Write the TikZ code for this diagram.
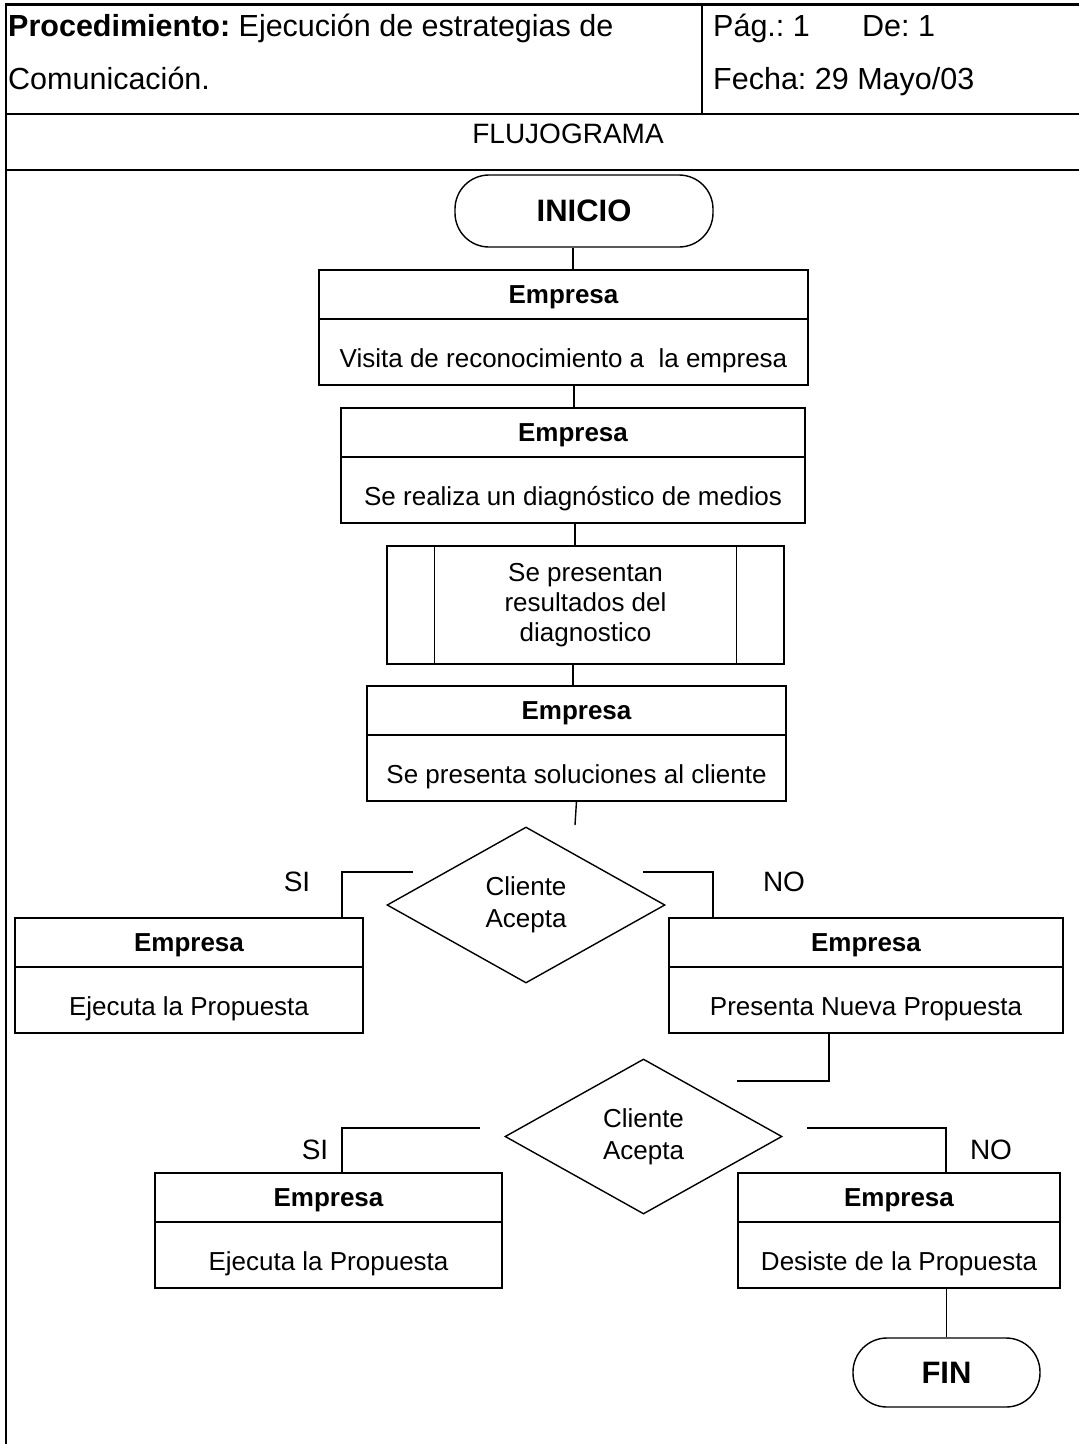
\documentclass[tikz,border=0pt]{standalone}
\usepackage{fontspec}
\setmainfont{Liberation Sans}
\frenchspacing
\usetikzlibrary{positioning,shapes.geometric}

\tikzset{
  frame/.style={line width=2.5pt},
  conn/.style={line width=1.4pt},
  head/.style={draw, line width=1.4pt, outer sep=0pt, minimum height=49pt,
    text height=18.7pt, text depth=0pt,
    font=\fontsize{26}{31}\selectfont\bfseries},
  body/.style={draw, line width=1.4pt, outer sep=0pt, minimum height=66pt,
    text height=30pt, text depth=0pt,
    font=\fontsize{26}{31}\selectfont},
  term/.style={draw, line width=1.4pt, rounded corners=34pt,
    font=\fontsize{31}{36}\selectfont\bfseries},
  decision/.style={draw, diamond, line width=1.4pt, inner sep=0pt, align=center,
    font=\fontsize{26}{32}\selectfont},
  answer/.style={font=\fontsize{28}{32}\selectfont},
  hdr/.style={anchor=base west, inner sep=0pt, font=\fontsize{30.5}{34}\selectfont},
}

\begin{document}
\begin{tikzpicture}[x=1pt, y=-1pt]
    \useasboundingbox (0,0) rectangle (1079,1444);

    % Frame and header
    \draw[frame] (1079,4.5) -- (6,4.5) -- (6,1444);
    \draw[frame] (6,114) -- (1079,114);
    \draw[frame] (6,170) -- (1079,170);
    \draw[frame] (702,4.5) -- (702,114);
    \node[hdr] (proc) at (8,36) {\textbf{Procedimiento:} Ejecución de estrategias de};
    \node[hdr] (proc2) at (8,89) {Comunicación.};
    \node[hdr] (pag) at (713,36) {Pág.: 1};
    \node[hdr] (de) at (862,36) {De: 1};
    \node[hdr] (fecha) at (713,89) {Fecha: 29 Mayo/03};
    \node[font=\fontsize{28}{32}\selectfont] (flujo) at (568,134) {FLUJOGRAMA};

    % Start
    \node[term, minimum width=258pt, minimum height=72pt] (inicio) at (584,211) {INICIO};

    % Steps
    \node[head, minimum width=489pt] (h1) at (563.5,294.5) {Empresa};
    \node[body, minimum width=489pt, below=0pt of h1] (t1) {Visita de reconocimiento a~ la empresa};

    \node[head, minimum width=464pt] (h2) at (573,432.5) {Empresa};
    \node[body, minimum width=464pt, below=0pt of h2] (t2) {Se realiza un diagnóstico de medios};

    \node[draw, line width=1.4pt, minimum width=397pt, minimum height=118pt, align=center,
      font=\fontsize{26}{30}\selectfont] (pp) at (585.5,605) {Se presentan\\resultados del\\diagnostico};
    \draw[conn] ([xshift=48pt]pp.north west) -- ([xshift=48pt]pp.south west);
    \draw[conn] ([xshift=-48pt]pp.north east) -- ([xshift=-48pt]pp.south east);

    \node[head, minimum width=419pt] (h3) at (576.5,710.5) {Empresa};
    \node[body, minimum width=419pt, below=0pt of h3] (t3) {Se presenta soluciones al cliente};

    % First decision
    \node[decision, minimum width=278pt, minimum height=156pt] (d1) at (526,905) {Cliente\\Acepta};
    \node[answer] (si1lbl) at (297,882) {SI};
    \node[answer] (no1lbl) at (784,882) {NO};

    \node[head, minimum width=348pt] (hL1) at (189,942.5) {Empresa};
    \node[body, minimum width=348pt, below=0pt of hL1] (tL1) {Ejecuta la Propuesta};

    \node[head, minimum width=394pt] (hR1) at (866,942.5) {Empresa};
    \node[body, minimum width=394pt, below=0pt of hR1] (tR1) {Presenta Nueva Propuesta};

    % Second decision
    \node[decision, minimum width=277pt, minimum height=155pt] (d2) at (643.5,1136.5) {Cliente\\Acepta};
    \node[answer] (si2lbl) at (315,1150) {SI};
    \node[answer] (no2lbl) at (991,1150) {NO};

    \node[head, minimum width=347pt] (hL2) at (328.5,1197.5) {Empresa};
    \node[body, minimum width=347pt, below=0pt of hL2] (tL2) {Ejecuta la Propuesta};

    \node[head, minimum width=322pt] (hR2) at (899,1197.5) {Empresa};
    \node[body, minimum width=322pt, below=0pt of hR2] (tR2) {Desiste de la Propuesta};

    % End
    \node[term, minimum width=187pt, minimum height=69pt] (fin) at (946.5,1372.5) {FIN};

    % Connectors
    \coordinate (e1) at (575,825);
    \coordinate (si1) at (413,872);
    \coordinate (no1) at (643,872);
    \coordinate (r1) at (737,1081);
    \coordinate (si2) at (480,1128);
    \coordinate (no2) at (807,1128);
    \draw[conn] ([xshift=-11pt]inicio.south) -- ([xshift=-11pt]inicio.south |- h1.north);
    \draw[conn] ([xshift=10.5pt]t1.south) -- ([xshift=10.5pt]t1.south |- h2.north);
    \draw[conn] ([xshift=2pt]t2.south) -- ([xshift=2pt]t2.south |- pp.north);
    \draw[conn] ([xshift=-12.5pt]pp.south) -- ([xshift=-12.5pt]pp.south |- h3.north);
    \draw[conn] (t3.south) -- (e1);
    \draw[conn] (si1) -| ([xshift=153pt]hL1.north);
    \draw[conn] (no1) -| ([xshift=-153pt]hR1.north);
    \draw[conn] ([xshift=-37pt]tR1.south) |- (r1);
    \draw[conn] (si2) -| ([xshift=13.5pt]hL2.north);
    \draw[conn] (no2) -| ([xshift=47pt]hR2.north);
    \draw[conn] (tR2.south -| fin.north) -- (fin.north);
\end{tikzpicture}
\end{document}
